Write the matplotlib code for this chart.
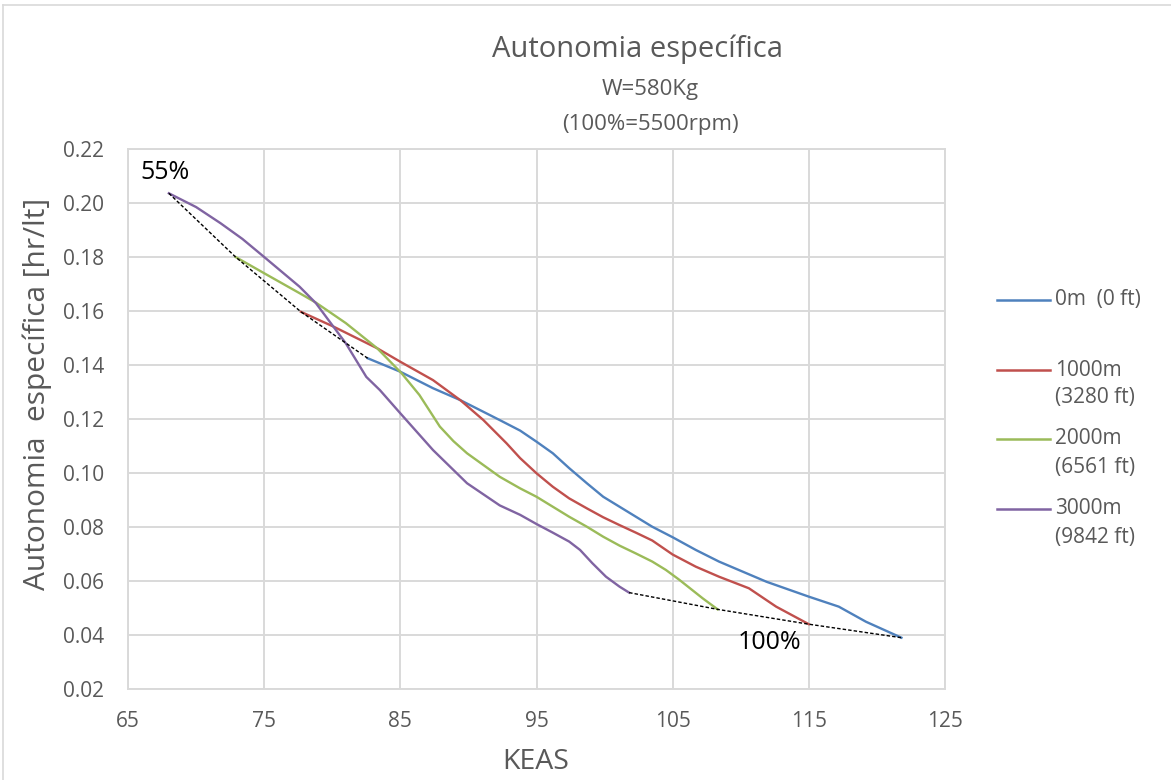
import matplotlib.pyplot as plt
from matplotlib.lines import Line2D

# Datos (KEAS, autonomía específica hr/lt)
keas_0m = [82.6, 85.0, 87.4, 89.4, 92.3, 93.8, 95.0, 96.2, 97.4, 98.7, 99.9, 101.1,
           102.3, 103.5, 105.0, 106.7, 108.4, 111.9, 115.0, 117.2, 119.2, 121.8]
auto_0m = [0.1425, 0.1375, 0.1314, 0.1270, 0.1196, 0.1157, 0.1116, 0.1073, 0.1018,
           0.0962, 0.0912, 0.0875, 0.0838, 0.0801, 0.0762, 0.0715, 0.0672, 0.0597,
           0.0542, 0.0505, 0.0449, 0.0390]

keas_1000m = [77.7, 80.1, 83.3, 85.0, 87.4, 89.4, 91.1, 92.8, 93.8, 95.0, 96.2, 97.4,
              98.7, 99.9, 101.1, 102.3, 103.5, 105.0, 106.7, 108.4, 110.6, 112.6, 115.0]
auto_1000m = [0.1597, 0.1542, 0.1462, 0.1412, 0.1344, 0.1270, 0.1196, 0.1110, 0.1055,
              0.0999, 0.0949, 0.0906, 0.0869, 0.0836, 0.0807, 0.0779, 0.0750, 0.0698,
              0.0653, 0.0616, 0.0573, 0.0505, 0.0440]

keas_2000m = [72.9, 75.1, 77.6, 78.8, 81.0, 83.3, 85.1, 86.4, 87.9, 88.9, 89.9, 92.3,
              93.8, 95.0, 96.2, 97.4, 98.7, 99.9, 101.1, 102.3, 103.5, 104.5, 105.5,
              107.2, 108.3]
auto_2000m = [0.1800, 0.1737, 0.1666, 0.1631, 0.1555, 0.1462, 0.1369, 0.1289, 0.1172,
              0.1118, 0.1073, 0.0986, 0.0943, 0.0912, 0.0875, 0.0838, 0.0801, 0.0764,
              0.0731, 0.0702, 0.0672, 0.0641, 0.0604, 0.0536, 0.0495]

keas_3000m = [68.0, 70.0, 71.8, 73.4, 75.0, 77.6, 78.8, 81.0, 82.5, 83.5, 85.0, 87.4,
              89.9, 92.3, 93.8, 95.0, 96.2, 97.4, 98.2, 99.1, 100.1, 101.1, 101.8]
auto_3000m = [0.2036, 0.1985, 0.1925, 0.1867, 0.1800, 0.1690, 0.1629, 0.1480, 0.1356,
              0.1307, 0.1221, 0.1085, 0.0962, 0.0880, 0.0845, 0.0811, 0.0779, 0.0746,
              0.0715, 0.0666, 0.0616, 0.0579, 0.0557]

# Envolventes 55% y 100%
keas_55 = [68.0, 72.9, 77.7, 82.6]
auto_55 = [0.2036, 0.1800, 0.1597, 0.1425]
keas_100 = [101.8, 108.3, 115.0, 121.8]
auto_100 = [0.0557, 0.0495, 0.0440, 0.0390]

labels = ['0m  (0 ft)', '1000m\n(3280 ft)', '2000m\n(6561 ft)', '3000m\n(9842 ft)']
colors = ['#4F81BD', '#C0504D', '#9BBB59', '#8064A2']
xticks = [65, 75, 85, 95, 105, 115, 125]
yticks = [0.02, 0.04, 0.06, 0.08, 0.10, 0.12, 0.14, 0.16, 0.18, 0.20, 0.22]

plt.rcParams['font.family'] = ['Open Sans', 'DejaVu Sans']
TXT = '#595959'
W, H = 1171, 780

fig = plt.figure(figsize=(W / 100, H / 100), dpi=100)
ax = fig.add_axes([128 / W, 1 - 689 / H, (945 - 128) / W, (689 - 149) / H])

series = [(keas_0m, auto_0m), (keas_1000m, auto_1000m),
          (keas_2000m, auto_2000m), (keas_3000m, auto_3000m)]
for (xs, ys), c in zip(series, colors):
    ax.plot(xs, ys, color=c, lw=1.7, zorder=3, solid_joinstyle='round')

ax.plot(keas_55, auto_55, color='black', lw=1.0, ls=(0, (2.5, 1.5)), zorder=4)
ax.plot(keas_100, auto_100, color='black', lw=1.0, ls=(0, (2.5, 1.5)), zorder=4)

ax.set_xlim(65, 125)
ax.set_ylim(0.02, 0.22)
ax.set_xticks(xticks)
ax.set_yticks(yticks)
ax.set_yticklabels([f'{v:.2f}' for v in yticks])
ax.grid(True, color='#D9D9D9', lw=1.4)
ax.set_axisbelow(True)
for s in ax.spines.values():
    s.set_color('#D9D9D9')
    s.set_linewidth(1.4)
ax.tick_params(axis='y', length=0, labelsize=15, colors=TXT, pad=17)
ax.tick_params(axis='x', length=0, labelsize=15, colors=TXT, pad=16)

fig.text(536 / W, 1 - 762 / H, 'KEAS', fontsize=20.5, color=TXT, ha='center', va='center')
fig.text(37 / W, 1 - 394 / H, 'Autonomia  específica [hr/lt]', fontsize=21.5, color=TXT,
         ha='center', va='center', rotation=90)

ax.text(67.7, 0.2113, '55%', fontsize=18, color='black', ha='center', va='center')
ax.text(112.1, 0.0372, '100%', fontsize=18, color='black', ha='center', va='center')

fig.text(638 / W, 1 - 57 / H, 'Autonomia específica', fontsize=21, color=TXT,
         ha='center', va='baseline')
fig.text(650 / W, 1 - 95 / H, 'W=580Kg', fontsize=16, color=TXT,
         ha='center', va='baseline')
fig.text(650 / W, 1 - 130 / H, '(100%=5500rpm)', fontsize=16, color=TXT,
         ha='center', va='baseline')

# Leyenda (línea alineada con la primera línea del texto)
leg_y = [300, 370, 439, 509]
for lab, c, y in zip(labels, colors, leg_y):
    fig.add_artist(Line2D([997 / W, 1050 / W], [1 - y / H, 1 - y / H], color=c, lw=1.8,
                          transform=fig.transFigure))
    for k, line in enumerate(lab.split('\n')):
        fig.text(1055 / W, 1 - (y + 28 * k) / H, line, fontsize=15, color=TXT,
                 ha='left', va='center')

# Borde del área del gráfico
fig.add_artist(Line2D([3 / W, 3 / W], [0, 1 - 5 / H], color='#D9D9D9', lw=1.2,
                      transform=fig.transFigure))
fig.add_artist(Line2D([3 / W, 1], [1 - 5 / H, 1 - 5 / H], color='#D9D9D9', lw=1.2,
                      transform=fig.transFigure))

fig.savefig('out.png', dpi=100)
